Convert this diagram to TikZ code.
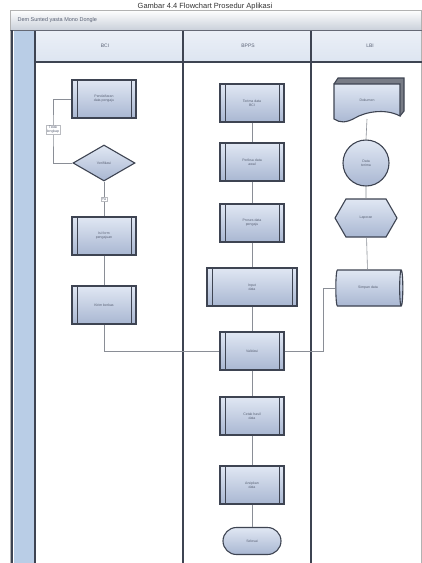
\documentclass[tikz,border=0pt]{standalone}
\usepackage{fontspec}
\setmainfont{Liberation Sans}
\usetikzlibrary{shapes.geometric,shapes.misc,shapes.symbols}
\definecolor{edgec}{HTML}{3E4452}
\definecolor{fillt}{HTML}{E0E7F3}
\definecolor{fillb}{HTML}{A9B7D2}
\definecolor{linec}{HTML}{8A8E96}
\definecolor{lanebar}{HTML}{B9CDE6}
\definecolor{headc}{HTML}{DDE5F1}
\definecolor{txtc}{HTML}{5A6275}
\begin{document}
\begin{tikzpicture}[x=1pt,y=-1pt,
  base/.style={draw=edgec, line width=1.1pt, top color=fillt, bottom color=fillb,
    font=\fontsize{3.5}{4}\selectfont, text=txtc, align=center, inner sep=1pt},
  proc/.style={base, rectangle, minimum width=64pt, minimum height=38pt,
    path picture={
      \draw[edgec, line width=0.8pt] ([xshift=5pt]path picture bounding box.north west) -- ([xshift=5pt]path picture bounding box.south west);
      \draw[edgec, line width=0.8pt] ([xshift=-5pt]path picture bounding box.north east) -- ([xshift=-5pt]path picture bounding box.south east);}},
  decis/.style={base, diamond, minimum width=62pt, minimum height=36pt, inner sep=0pt},
  conn/.style={draw=linec, line width=0.6pt},
  lbl/.style={fill=white, draw=linec!60, line width=0.3pt, font=\fontsize{3.5}{4}\selectfont, text=txtc, inner sep=1pt, align=center},
  lanehead/.style={font=\fontsize{5}{6}\selectfont, text=txtc}
]
\useasboundingbox (0,0) rectangle (422,563);
\fill[white] (0,0) rectangle (422,563);

% caption at the very top
\node[font=\fontsize{7.5}{8}\selectfont, text=black!80, anchor=base] (cap) at (205,8) {Gambar 4.4 Flowchart Prosedur Aplikasi};

% pool frame
\shade[top color=white, bottom color=headc!80!gray] (10,10) rectangle (422,30);
\node[anchor=west, font=\fontsize{5.5}{6}\selectfont, text=txtc] (title) at (14,20) {Dem Sunted yasta Mono Dongle};
\shade[top color=headc!60, bottom color=headc] (35,31) rectangle (422,62);
\fill[lanebar] (14,31) rectangle (34,563);
\draw[gray!60, line width=0.6pt] (10,10) rectangle (421,570);
\draw[edgec!80, line width=0.8pt] (10,30) -- (422,30);
\draw[edgec, line width=1.2pt] (12,30) -- (12,563);
\draw[edgec, line width=1.2pt] (35,31) -- (35,563);
\draw[edgec, line width=1.2pt] (183,31) -- (183,563);
\draw[edgec, line width=1.2pt] (311,31) -- (311,563);
\draw[edgec, line width=1.2pt] (35,62) -- (422,62);
\node[lanehead] (h1) at (105,46) {BCI};
\node[lanehead] (h2) at (248,46) {BPPS};
\node[lanehead] (h3) at (370,46) {LBI};

% lane 1
\node[proc] (a1) at (104,99) {Pendaftaran\\data pengaju};
\node[decis] (a2) at (104,163) {Verifikasi};
\node[proc] (a3) at (104,236) {Isi form\\pengajuan};
\node[proc] (a4) at (104,305) {Kirim berkas};
\coordinate (l1) at (53,130);
\draw[conn] (a2.west) -| (l1) |- (a1.west);
\node[lbl] (t1) at (l1) {Tidak\\lengkap};
\draw[conn] (a2.south) -- node[lbl] (y1) {Ya} (a3.north);
\draw[conn] (a3) -- (a4);

% lane 2
\node[proc] (b1) at (252,103) {Terima data\\BCI};
\node[proc] (b2) at (252,162) {Periksa data\\awal};
\node[proc] (b3) at (252,223) {Proses data\\pengaju};
\node[proc, minimum width=90pt] (b4) at (252,287) {Input\\data};
\node[proc] (b5) at (252,351) {Validasi};
\node[proc] (b6) at (252,416) {Cetak hasil\\data};
\node[proc] (b7) at (252,485) {Arsipkan\\data};
\node[base, rounded rectangle, minimum width=60pt, minimum height=27pt] (b8) at (252,541) {Selesai};
\draw[conn] (b1) -- (b2);
\draw[conn] (b2) -- (b3);
\draw[conn] (b3) -- (b4);
\draw[conn] (b4) -- (b5);
\draw[conn] (b5) -- (b6);
\draw[conn] (b6) -- (b7);
\draw[conn] (b7) -- (b8);
\draw[conn] (a4.south) |- (b5.west);

% lane 3
\fill[edgec!70] (334,84) -- (338,78) -- (404,78) -- (404,111) -- (400,116) -- (400,84) -- cycle;
\draw[edgec, line width=1.1pt] (334,84) -- (338,78) -- (404,78) -- (404,111) -- (400,116);
\draw[edgec, line width=1.1pt, top color=fillt, bottom color=fillb]
  (334,84) -- (400,84) -- (400,116) .. controls (385,108) and (365,112) .. (355,118) .. controls (346,123) and (340,123) .. (334,119) -- cycle;
\node[font=\fontsize{3.5}{4}\selectfont, text=txtc] (c1) at (367,100) {Dokumen};
\node[base, circle, minimum size=46pt] (c2) at (366,163) {Data\\terima};
\node[base, signal, signal to=west and east, signal pointer angle=120, minimum width=62pt, minimum height=38pt] (c3) at (366,218) {Laporan};
\node[base, cylinder, shape border rotate=0, shape aspect=0.6, minimum width=36pt, minimum height=67pt,
  cylinder uses custom fill, cylinder body fill=fillb!70!fillt, cylinder end fill=fillt] (c4) at (368,288) {Simpan data};
\draw[conn] (367,119) -- (c2.north);
\draw[conn] (c2) -- (c3);
\draw[conn] (c3) -- (c4);
\coordinate (r1) at (323,288);
\draw[conn] (b5.east) -| (r1) -- (c4.west);
\end{tikzpicture}
\end{document}
